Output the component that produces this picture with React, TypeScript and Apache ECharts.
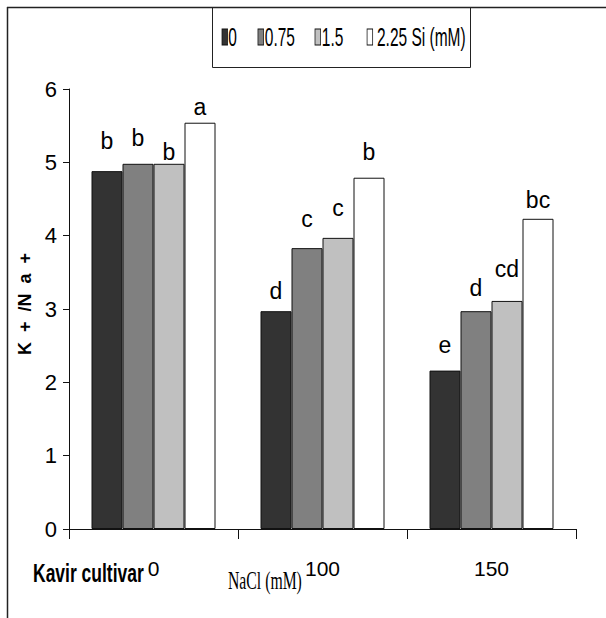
import React, { useEffect, useRef } from "react";
import * as echarts from "echarts";

const categories = ["0", "100", "150"];
const seriesNames = ["0", "0.75", "1.5", "2.25 Si (mM)"];
const si0 = [4.88, 2.97, 2.16];
const si075 = [4.98, 3.83, 2.97];
const si15 = [4.98, 3.97, 3.11];
const si225 = [5.54, 4.79, 4.23];
const letters0 = ["b", "d", "e"];
const letters075 = ["b", "c", "d"];
const letters15 = ["b", "c", "cd"];
const letters225 = ["a", "b", "bc"];
const yTicks = { min: 0, max: 6, interval: 1 };

const colors = ["#333333", "#808080", "#c0c0c0", "#ffffff"];
const labelDistances = [
  [19, 9, 14],
  [14, 18, 12],
  [0, 18, 20],
  [4, 14, 7],
];
// legend layout (local, unscaled coordinates)
const legendMarkerX = [0, 58, 150, 234];
const legendTextX = [10, 69, 161, 250];

const SANS = '"Liberation Sans", Arial, sans-serif';
const SERIF = '"Liberation Serif", "Times New Roman", serif';

export default function App() {
  const ref = useRef<HTMLDivElement>(null);
  useEffect(() => {
    document.body.style.margin = "0";
    const chart = echarts.init(ref.current!, undefined, { renderer: "svg" });
    const values = [si0, si075, si15, si225];
    const letters = [letters0, letters075, letters15, letters225];
    const series = values.map((vals, i) => ({
      type: "bar",
      name: seriesNames[i],
      barWidth: 31,
      barGap: "0%",
      itemStyle: { color: colors[i], borderColor: "#111", borderWidth: 1 },
      data: vals.map((v, j) => ({
        value: v,
        label: {
          show: true,
          position: "top",
          distance: labelDistances[i][j],
          formatter: letters[i][j],
          fontFamily: SANS,
          fontSize: 23,
          color: "#000",
        },
      })),
    }));
    const legendChildren: any[] = [];
    seriesNames.forEach((n, i) => {
      legendChildren.push({
        type: "rect",
        shape: { x: legendMarkerX[i], y: -8, width: 9, height: 16 },
        style: { fill: colors[i], stroke: "#111", lineWidth: 1.2 },
      });
      legendChildren.push({
        type: "text",
        x: legendTextX[i],
        y: 0,
        style: { text: n, fontFamily: SANS, fontSize: 25, fill: "#000", verticalAlign: "middle" },
      });
    });
    chart.setOption({
      animation: false,
      backgroundColor: "#fff",
      grid: { left: 69, right: 30, top: 89, bottom: 89, containLabel: false },
      xAxis: {
        type: "category",
        data: categories,
        axisLine: { lineStyle: { color: "#111", width: 1 } },
        axisTick: { show: true, length: 10, lineStyle: { color: "#111" } },
        axisLabel: { margin: 29, fontFamily: SANS, fontSize: 21, color: "#000" },
      },
      yAxis: {
        type: "value",
        min: yTicks.min,
        max: yTicks.max,
        interval: yTicks.interval,
        splitLine: { show: false },
        axisLine: { show: true, lineStyle: { color: "#111", width: 1 } },
        axisTick: { show: true, length: 6, lineStyle: { color: "#111" } },
        axisLabel: { margin: 12, fontFamily: SANS, fontSize: 22, color: "#000" },
        name: "\u00a0\u00a0K\u00a0\u00a0+\u00a0\u00a0/N\u00a0\u00a0a\u00a0\u00a0+",
        nameLocation: "middle",
        nameRotate: 90,
        nameGap: 24,
        nameTextStyle: { fontFamily: SANS, fontWeight: "bold", fontSize: 18, color: "#000" },
      },
      graphic: [
        { type: "line", shape: { x1: 7, y1: 7.5, x2: 606, y2: 7.5 }, style: { stroke: "#222", lineWidth: 1.5 } },
        { type: "line", shape: { x1: 7.5, y1: 7, x2: 7.5, y2: 618 }, style: { stroke: "#222", lineWidth: 1.5 } },
        { type: "rect", shape: { x: 212.5, y: 7.5, width: 258, height: 60 }, style: { fill: "none", stroke: "#222", lineWidth: 1 } },
        { type: "group", x: 222, y: 37, scaleX: 0.62, children: legendChildren },
        {
          type: "text",
          x: 33,
          y: 573,
          scaleX: 0.7,
          style: { text: "Kavir cultivar", fontFamily: SANS, fontWeight: "bold", fontSize: 25, fill: "#000", verticalAlign: "middle" },
        },
        {
          type: "text",
          x: 228,
          y: 581,
          scaleX: 0.63,
          style: { text: "NaCl (mM)", fontFamily: SERIF, fontSize: 25, fill: "#000", verticalAlign: "middle" },
        },
      ],
      series,
    });
    return () => chart.dispose();
  }, []);
  return <div ref={ref} style={{ width: 606, height: 618 }} />;
}
